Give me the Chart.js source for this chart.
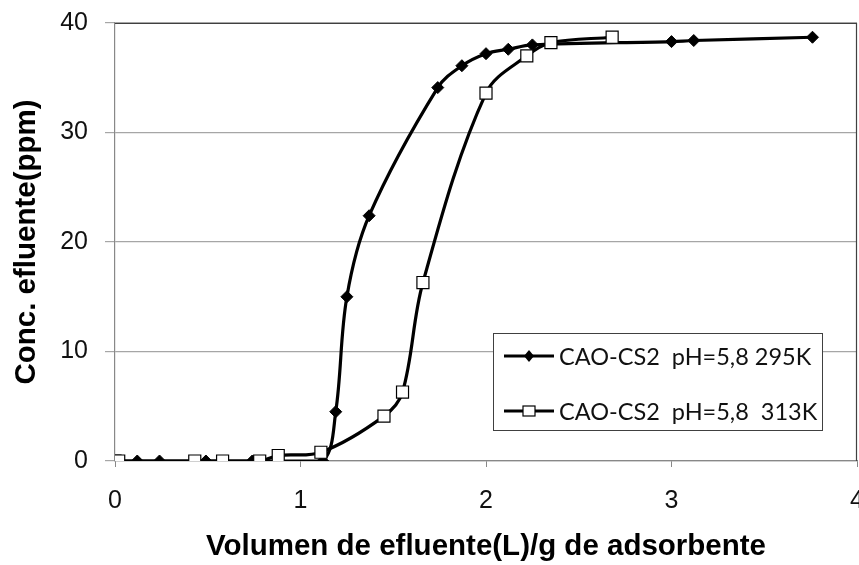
<!DOCTYPE html>
<html>
<head>
<meta charset="utf-8">
<script src="https://cdn.jsdelivr.net/npm/chart.js@4/dist/chart.umd.min.js"></script>
<style>
  html, body { margin: 0; padding: 0; background: #fff; overflow: hidden; }
  #wrap { position: relative; width: 859px; height: 565px; }
</style>
</head>
<body>
<div id="wrap"><canvas id="grafico"></canvas></div>
<script>
// Curvas de ruptura - CAO-CS2 a dos temperaturas
const volumen295 = [0, 0.02, 0.12, 0.24, 0.49, 0.74, 0.88, 1.12, 1.19, 1.25, 1.37, 1.74, 1.87, 2.0, 2.12, 2.25, 3.0, 3.12, 3.76];
const conc295    = [0, 0, 0, 0, 0, 0, 0, 0, 4.5, 15.0, 22.4, 34.1, 36.1, 37.2, 37.6, 38.0, 38.3, 38.4, 38.7];

const volumen313 = [0, 0.02, 0.43, 0.58, 0.78, 0.88, 1.11, 1.45, 1.55, 1.66, 2.0, 2.22, 2.35, 2.68];
const conc313    = [0, 0, 0, 0, 0, 0.5, 0.8, 4.1, 6.3, 16.3, 33.6, 37.0, 38.2, 38.7];

const etiquetas = ['CAO-CS2  pH=5,8 295K', 'CAO-CS2  pH=5,8  313K'];
const ticksY = [0, 10, 20, 30, 40];
const ticksX = [0, 1, 2, 3, 4];

function puntos(xs, ys) {
    return xs.map((x, i) => ({ x: x, y: ys[i] }));
}

// marcador dibujado a mano para la leyenda
function marcador(ctx, tipo, x, y) {
    ctx.save();
    ctx.lineWidth = 1.2;
    ctx.strokeStyle = '#000';
    if (tipo === 'rombo') {
        ctx.fillStyle = '#000';
        ctx.beginPath();
        ctx.moveTo(x, y - 6);
        ctx.lineTo(x + 5, y);
        ctx.lineTo(x, y + 6);
        ctx.lineTo(x - 5, y);
        ctx.closePath();
        ctx.fill();
    } else {
        ctx.fillStyle = '#fff';
        ctx.fillRect(x - 6, y - 5, 12, 10);
        ctx.strokeRect(x - 6, y - 5, 12, 10);
    }
    ctx.restore();
}

const bordePlugin = {
    id: 'bordePlugin',
    beforeDatasetsDraw(chart) {
        const { ctx, chartArea: a } = chart;
        ctx.save();
        ctx.strokeStyle = '#404040';
        ctx.lineWidth = 1.2;
        ctx.beginPath();
        ctx.moveTo(a.left, a.top + 0.5);
        ctx.lineTo(a.right - 0.5, a.top + 0.5);
        ctx.lineTo(a.right - 0.5, a.bottom);
        ctx.stroke();
        ctx.restore();
    }
};

const leyendaPlugin = {
    id: 'leyendaPlugin',
    afterDraw(chart) {
        const ctx = chart.ctx;
        const bx = 493, by = 333, bw = 329, bh = 97;
        ctx.save();
        ctx.fillStyle = '#fff';
        ctx.fillRect(bx, by, bw, bh);
        ctx.strokeStyle = '#404040';
        ctx.lineWidth = 1;
        ctx.strokeRect(bx + 0.5, by + 0.5, bw, bh);

        const filas = [by + 23, by + 78];
        const tipos = ['rombo', 'cuadro'];
        filas.forEach((fy, i) => {
            ctx.strokeStyle = '#000';
            ctx.lineWidth = 3;
            ctx.beginPath();
            ctx.moveTo(504, fy);
            ctx.lineTo(554, fy);
            ctx.stroke();
            marcador(ctx, tipos[i], 529, fy);
            ctx.fillStyle = '#111';
            ctx.font = '23.5px Lato, "Liberation Sans", sans-serif';
            ctx.textBaseline = 'middle';
            ctx.fillText(etiquetas[i], 559, fy + 1);
        });
        ctx.restore();
    }
};

new Chart(document.getElementById('grafico'), {
    type: 'line',
    data: {
        datasets: [{
            label: etiquetas[0],
            data: puntos(volumen295, conc295),
            borderColor: '#000',
            borderWidth: 3.2,
            pointStyle: 'rectRot',
            pointRadius: 6,
            pointBackgroundColor: '#000',
            pointBorderColor: '#000',
            pointBorderWidth: 1,
            tension: 0.35,
            order: 1
        }, {
            label: etiquetas[1],
            data: puntos(volumen313, conc313),
            borderColor: '#000',
            borderWidth: 3.2,
            pointStyle: 'rect',
            pointRadius: 8.5,
            pointBackgroundColor: '#fff',
            pointBorderColor: '#000',
            pointBorderWidth: 1.2,
            tension: 0.35,
            order: 0
        }]
    },
    options: {
        responsive: true,
        maintainAspectRatio: false,
        animation: false,
        layout: {
            autoPadding: false,
            padding: { top: 23, right: 2, bottom: 0, left: 0 }
        },
        plugins: {
            legend: { display: false },
            tooltip: { enabled: false }
        },
        scales: {
            x: {
                type: 'linear',
                min: 0,
                max: 4,
                afterBuildTicks: s => { s.ticks = ticksX.map(v => ({ value: v })); },
                afterFit: s => { s.height = 104; s.paddingRight = 0; s.paddingLeft = 0; },
                ticks: {
                    color: '#111',
                    font: { family: '"Liberation Sans", Arial, sans-serif', size: 25 },
                    padding: 19,
                    maxRotation: 0
                },
                grid: {
                    drawOnChartArea: false,
                    color: '#888',
                    tickLength: 6
                },
                border: { color: '#888', width: 1.2 },
                title: {
                    display: true,
                    text: 'Volumen de efluente(L)/g de adsorbente',
                    color: '#000',
                    font: { family: '"Liberation Sans", Arial, sans-serif', size: 29.5, weight: 'bold' },
                    padding: { top: -3, bottom: 0 }
                }
            },
            y: {
                min: 0,
                max: 40,
                afterBuildTicks: s => { s.ticks = ticksY.map(v => ({ value: v })); },
                afterFit: s => { s.width = 115; s.paddingTop = 0; s.paddingBottom = 0; },
                ticks: {
                    color: '#111',
                    font: { family: '"Liberation Sans", Arial, sans-serif', size: 25 },
                    padding: 17
                },
                grid: {
                    color: '#a6a6a6',
                    lineWidth: 1.2,
                    tickLength: 10
                },
                border: { color: '#888', width: 1.2 },
                title: {
                    display: true,
                    text: 'Conc. efluente(ppm)',
                    color: '#000',
                    font: { family: '"Liberation Sans", Arial, sans-serif', size: 29.5, weight: 'bold' },
                    padding: { top: 9, bottom: 0 }
                }
            }
        }
    },
    plugins: [bordePlugin, leyendaPlugin]
});
</script>
</body>
</html>
